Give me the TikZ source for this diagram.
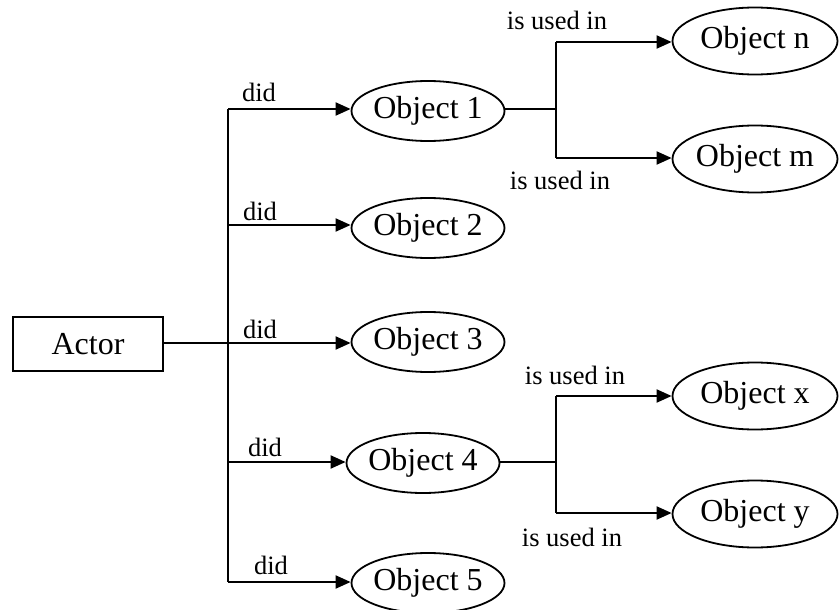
\documentclass[tikz,border=0pt]{standalone}
\usepackage{fontspec}
\setmainfont{Liberation Serif}
\usetikzlibrary{shapes.geometric,arrows.meta}
\tikzset{
  obj/.style={draw, ellipse, line width=1.8pt, minimum width=153pt, minimum height=60pt, inner sep=0pt, font=\fontsize{32}{34}\selectfont},
  bigobj/.style={obj, minimum width=165pt, minimum height=67pt},
  actorbox/.style={draw, rectangle, line width=1.8pt, minimum width=150pt, minimum height=54pt, inner sep=0pt, font=\fontsize{32}{34}\selectfont},
  lab/.style={font=\fontsize{26.5}{30}\selectfont, inner sep=0pt},
  conn/.style={line width=2pt},
  arr/.style={line width=2pt, -{Triangle[length=15pt,width=13pt]}},
}
\newcommand{\zt}[1]{\makebox[0pt]{#1}}
\begin{document}
\begin{tikzpicture}[x=1pt,y=-1pt]
\useasboundingbox (0,0) rectangle (839,610);
% nodes
\node[actorbox] (actor) at (88,344) {Actor};
\node[obj] (o1) at (428,111) {\zt{Object 1}};
\node[obj] (o2) at (428,228) {\zt{Object 2}};
\node[obj] (o3) at (428,342) {\zt{Object 3}};
\node[obj] (o4) at (423,463) {\zt{Object 4}};
\node[obj] (o5) at (428,583) {\zt{Object 5}};
\node[bigobj] (on) at (755,41) {\zt{Object n}};
\node[bigobj] (om) at (755,159) {\zt{Object m}};
\node[bigobj] (ox) at (755,396) {\zt{Object x}};
\node[bigobj] (oy) at (755,514) {\zt{Object y}};
% junctions
\coordinate (t1) at (228,109);
\coordinate (t2) at (228,225);
\coordinate (t3) at (228,343);
\coordinate (t4) at (228,462);
\coordinate (t5) at (228,582);
\coordinate (b1) at (556,109);
\coordinate (b4) at (556,462);
\coordinate (bn) at (556,42);
\coordinate (bm) at (556,158);
\coordinate (bx) at (556,396);
\coordinate (by) at (556,513);
% trunk
\draw[line width=2.6pt] (actor.east |- t3) -- (t3);
\draw[line width=2.2pt] (t1) -- (t5);
\draw[arr] (t1) -- (t1 -| o1.west);
\draw[arr] (t2) -- (t2 -| o2.west);
\draw[arr] (t3) -- (t3 -| o3.west);
\draw[arr] (t4) -- (t4 -| o4.west);
\draw[arr] (t5) -- (t5 -| o5.west);
% branches
\draw[conn] (b1 -| o1.east) -- (b1);
\draw[conn] (bn) -- (bm);
\draw[arr] (bn) -- (bn -| on.west);
\draw[arr] (bm) -- (bm -| om.west);
\draw[conn] (b4 -| o4.east) -- (b4);
\draw[conn] (bx) -- (by);
\draw[arr] (bx) -- (bx -| ox.west);
\draw[arr] (by) -- (by -| oy.west);
% labels
\node[lab] (d1) at (259,92) {did};
\node[lab] (d2) at (260,211) {did};
\node[lab] (d3) at (260,329) {did};
\node[lab] (d4) at (265,447) {did};
\node[lab] (d5) at (271,565) {did};
\node[lab] (u1) at (557,20) {is used in};
\node[lab] (u2) at (560,180) {is used in};
\node[lab] (u3) at (575,375) {is used in};
\node[lab] (u4) at (572,537) {is used in};
\end{tikzpicture}
\end{document}
